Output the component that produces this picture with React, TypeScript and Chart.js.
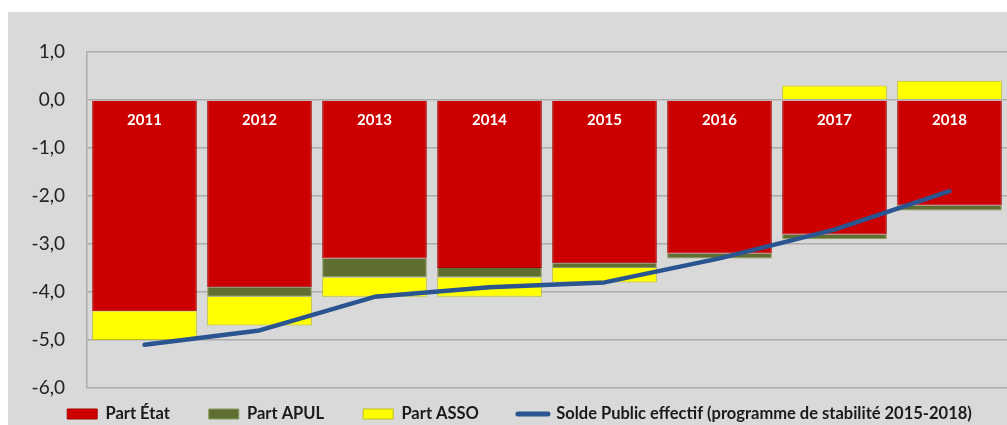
import React, { useEffect, useRef } from "react";
import { Chart, registerables } from "chart.js";

Chart.register(...registerables);

const categories = ["2011", "2012", "2013", "2014", "2015", "2016", "2017", "2018"];
const partEtat = [-4.4, -3.9, -3.3, -3.5, -3.4, -3.2, -2.8, -2.2];
const partApul = [0, -0.2, -0.4, -0.2, -0.1, -0.1, -0.1, -0.1];
const partAsso = [-0.6, -0.6, -0.4, -0.4, -0.3, 0, 0.3, 0.4];
const soldePublic = [-5.1, -4.8, -4.1, -3.9, -3.8, -3.3, -2.7, -1.9];
const seriesNames = [
  "Part État",
  "Part APUL",
  "Part ASSO",
  "Solde Public effectif (programme de stabilité 2015-2018)",
];
const yTicks = { min: -6, max: 1, step: 1 };

const FONT = "Lato, 'Open Sans', 'DejaVu Sans', sans-serif";
const LEGEND_PAD = 39;
const LEGEND_FONT = 16.5;

const yearLabels = {
  id: "yearLabels",
  afterDatasetsDraw(chart: any) {
    const { ctx, scales } = chart;
    const x = scales.x;
    const y = scales.y;
    ctx.save();
    ctx.fillStyle = "#ffffff";
    ctx.font = `bold 15px ${FONT}`;
    ctx.textAlign = "center";
    ctx.textBaseline = "middle";
    categories.forEach((c, i) => {
      ctx.fillText(c, x.getPixelForValue(i), y.getPixelForValue(0) + 20);
    });
    ctx.restore();
  },
};

const legendShift = {
  id: "legendShift",
  afterLayout(chart: any) {
    const lg = chart.legend;
    if (!lg) return;
    const targetY = 402;
    const dy = targetY - (lg.top + LEGEND_PAD + LEGEND_FONT / 2);
    lg.top += dy;
    lg.bottom = chart.height;
    lg.height = lg.bottom - lg.top;
    lg.left += 12;
    lg.right += 12;
  },
};

export default function App() {
  const ref = useRef<HTMLCanvasElement>(null);
  useEffect(() => {
    if (!ref.current) return;
    const chart = new Chart(ref.current, {
      type: "bar",
      data: {
        labels: categories,
        datasets: [
          {
            type: "bar",
            label: seriesNames[0],
            data: partEtat,
            backgroundColor: "#cc0000",
            borderColor: "#a30000",
            borderWidth: 1,
            stack: "bars",
            order: 1,
          },
          {
            type: "bar",
            label: seriesNames[1],
            data: partApul,
            backgroundColor: "#5f6f32",
            borderColor: "#8a9a5a",
            borderWidth: 1,
            stack: "bars",
            order: 1,
          },
          {
            type: "bar",
            label: seriesNames[2],
            data: partAsso,
            backgroundColor: "#ffff00",
            borderColor: "#bfbf1a",
            borderWidth: 1,
            stack: "bars",
            order: 1,
          },
          {
            type: "line",
            label: seriesNames[3],
            data: soldePublic,
            borderColor: "#2b5591",
            backgroundColor: "#2b5591",
            borderWidth: 4.5,
            borderCapStyle: "round",
            borderJoinStyle: "round",
            pointRadius: 0,
            pointStyle: "line",
            tension: 0,
            stack: "line",
            order: 0,
          } as any,
        ],
      },
      options: {
        responsive: false,
        animation: false,
        layout: { padding: { top: 40, left: 0, right: 0, bottom: 0 } },
        datasets: {
          bar: { categoryPercentage: 1, barPercentage: 0.91 },
        } as any,
        scales: {
          x: {
            display: false,
            stacked: true,
          },
          y: {
            stacked: true,
            min: yTicks.min,
            max: yTicks.max,
            afterFit: (s: any) => {
              s.width = 79;
            },
            ticks: {
              stepSize: yTicks.step,
              padding: 22,
              color: "#222222",
              font: { family: FONT, size: 19 },
              callback: (v: any) => Number(v).toFixed(1).replace(".", ","),
            },
            grid: { color: "#acacac", lineWidth: 1.5, drawTicks: false },
            border: { display: true, color: "#acacac", width: 1.5 },
          },
        },
        plugins: {
          tooltip: { enabled: false },
          legend: {
            position: "bottom",
            maxHeight: 37,
            labels: {
              usePointStyle: true,
              pointStyleWidth: 30,
              boxHeight: 10,
              padding: LEGEND_PAD,
              color: "#1a1a1a",
              font: { family: FONT, size: LEGEND_FONT, weight: "bold" },
              sort: (a: any, b: any) => a.datasetIndex - b.datasetIndex,
              generateLabels: (chart: any) => {
                const items = Chart.defaults.plugins.legend.labels.generateLabels(chart);
                return items.map((it: any) => {
                  if (it.datasetIndex < 3) {
                    it.pointStyle = "rect";
                    it.lineWidth = 1;
                  } else {
                    it.pointStyle = "line";
                    it.lineWidth = 5;
                    it.lineCap = "round";
                  }
                  return it;
                });
              },
            },
          } as any,
        },
      },
      plugins: [yearLabels, legendShift],
    });
    return () => chart.destroy();
  }, []);

  return (
    <div
      style={{
        position: "fixed",
        left: 8,
        top: 12,
        width: 999,
        height: 413,
        background: "#d9d9d9",
      }}
    >
      <canvas ref={ref} width={999} height={413} style={{ display: "block" }} />
    </div>
  );
}
